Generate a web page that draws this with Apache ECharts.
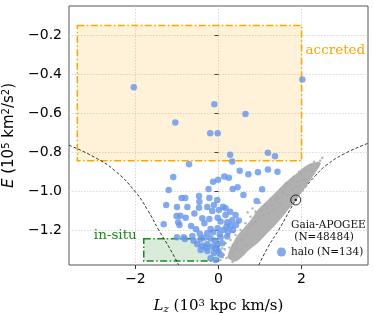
<!DOCTYPE html>
<html><head><meta charset="utf-8">
<script src="https://cdn.jsdelivr.net/npm/echarts@6/dist/echarts.min.js"></script>
<style>html,body{margin:0;padding:0;background:#fff}#c{width:374px;height:313px}</style>
</head><body><div id="c"></div>
<script>
// ---- data (Lz in 10^3 kpc km/s, E in 10^5 km^2/s^2) ----
var xTicks = [-2, 0, 2];
var yTicks = [-1.2, -1.0, -0.8, -0.6, -0.4, -0.2];
var accretedBox = [-3.4, 2.0, -0.845, -0.15];   // [Lz min, Lz max, E min, E max]
var insituBox = [-1.8, 0.0, -1.36, -1.245];
var curveLeft = [[-3.6,-0.765],[-3.0,-0.825],[-2.5,-0.895],[-2.0,-1.005],[-1.7,-1.1],[-1.44,-1.2],[-1.16,-1.3],[-0.96,-1.38]];
var curveRight = [[0.97,-1.38],[1.2,-1.285],[1.45,-1.2],[1.86,-1.046],[2.0,-1.005],[2.34,-0.92],[2.6,-0.867],[3.0,-0.812],[3.6,-0.755]];
var diskBand = [[2.40,-0.85],[2.14,-0.866],[1.90,-0.906],[1.66,-0.947],[1.42,-0.997],[1.17,-1.05],[0.93,-1.10],[0.78,-1.148],[0.61,-1.19],[0.44,-1.232],[0.32,-1.278],[0.25,-1.31],[0.23,-1.344],[0.40,-1.362],[0.58,-1.336],[0.72,-1.305],[0.94,-1.268],[1.13,-1.227],[1.37,-1.175],[1.61,-1.114],[1.86,-1.048],[2.10,-0.98],[2.34,-0.904],[2.46,-0.86]];
var diskStars = [[2.22,-0.867],[2.10,-0.892],[1.98,-0.918],[1.81,-0.927],[1.90,-0.952],[1.73,-0.969],[1.61,-0.978],[1.53,-1.004],[1.66,-1.021],[1.45,-1.037],[1.37,-1.046],[1.29,-1.072],[1.17,-1.089],[1.05,-1.097],[0.97,-1.132],[1.09,-1.123],[0.89,-1.157],[0.81,-1.174],[0.73,-1.191],[0.65,-1.226],[0.57,-1.251],[0.45,-1.268],[0.41,-1.303],[0.33,-1.319],[0.25,-1.337],[0.53,-1.303],[0.65,-1.277],[1.21,-1.114],[1.33,-1.097],[1.49,-1.063],[1.78,-0.995],[2.02,-0.944],[2.26,-0.892],[2.38,-0.875],[2.42,-0.858],[0.89,-1.106],[0.77,-1.132],[0.65,-1.166],[0.53,-1.2],[0.41,-1.226],[0.29,-1.251],[0.17,-1.268],[0.09,-1.294],[0.13,-1.328],[0.05,-1.354],[0.53,-1.251],[0.43,-1.292],[0.34,-1.277],[0.19,-1.344],[0.34,-1.364],[1.25,-1.046],[1.13,-1.072],[1.41,-1.029],[1.57,-1.012],[1.86,-0.978],[2.10,-0.944],[2.5,-0.83],[2.45,-0.845],[2.3,-0.85],[0.70,-1.11],[1.0,-1.06],[0.48,-1.16],[0.15,-1.30],[0.22,-1.23],[0.36,-1.21],[0.82,-1.09],[1.62,-0.96],[1.95,-0.90],[0.10,-1.34],[0.26,-1.29]];
var haloStars = [[-2.04,-0.467],[-0.10,-0.555],[-1.04,-0.648],[-0.20,-0.703],[-0.02,-0.703],[2.02,-0.427],[0.65,-0.604],[0.28,-0.814],[0.33,-0.848],[-0.71,-0.863],[-1.09,-0.928],[0.14,-0.925],[0.25,-0.932],[-0.13,-0.952],[-0.01,-0.942],[-1.20,-0.995],[-0.24,-0.99],[0.34,-0.99],[0.46,-0.981],[0.51,-0.896],[-0.89,-1.036],[-0.80,-1.036],[-0.47,-1.026],[-0.22,-1.036],[-0.03,-1.046],[1.19,-0.804],[1.36,-0.822],[0.72,-0.914],[0.95,-0.904],[1.19,-0.889],[1.42,-0.901],[1.05,-0.991],[0.60,-1.021],[0.92,-1.051],[-0.46,-1.055],[-1.26,-1.072],[-1.00,-1.082],[-0.75,-1.082],[-0.47,-1.086],[-0.27,-1.082],[-0.15,-1.103],[0.01,-1.097],[0.17,-1.089],[0.28,-1.106],[-0.92,-1.127],[-0.79,-1.137],[-0.39,-1.14],[-0.22,-1.144],[-0.02,-1.137],[0.17,-1.123],[-0.97,-1.161],[-0.94,-1.174],[-0.34,-1.166],[0.05,-1.157],[0.21,-1.161],[0.33,-1.150],[-0.54,-1.196],[-0.19,-1.195],[-0.02,-1.191],[0.19,-1.183],[0.29,-1.178],[0.42,-1.174],[-0.27,-1.217],[-0.13,-1.212],[0.03,-1.222],[0.23,-1.209],[-0.81,-1.246],[-0.63,-1.231],[-0.60,-1.256],[-0.43,-1.246],[-0.34,-1.239],[-0.19,-1.243],[-0.09,-1.256],[0.05,-1.239],[0.21,-1.234],[-0.51,-1.273],[-0.39,-1.281],[-0.27,-1.273],[-0.15,-1.286],[-0.07,-1.294],[0.09,-1.268],[-0.43,-1.303],[-0.27,-1.308],[-0.11,-1.319],[-0.19,-1.345],[-0.07,-1.354],[0.05,-1.328],[0.11,-1.081],[0.41,-1.123],[0.49,-1.152],[-0.11,-1.072],[-0.03,-1.277],[-1.32,-1.171],[-1.01,-1.128],[-1.0,-1.237],[-0.84,-1.237],[-0.58,-1.115],[-0.66,-1.18],[0.12,-1.2],[-0.3,-1.29],[0.0,-1.31],[-0.45,-1.22],[0.35,-1.2]];
var sun = [[1.86,-1.046]];
var grayName = 'Gaia-APOGEE\n (N=48484)';
var haloName = 'halo (N=134)';

function fmt(v, d){ return (d ? v.toFixed(d) : String(v)).replace('-', '\u2212'); }

var chart = echarts.init(document.getElementById('c'));
function boxRender(color, fill, label, labelPos){
  return function(params, api){
    var p0 = api.coord([api.value(0), api.value(3)]);
    var p1 = api.coord([api.value(1), api.value(2)]);
    var t = labelPos === 'right'
      ? {x: p1[0] + 4, y: p0[1] + 25, align: 'left'}
      : {x: p0[0] - 7, y: p0[1] - 3, align: 'right'};
    return {type: 'group', children: [
      {type: 'rect', shape: {x: p0[0], y: p0[1], width: p1[0]-p0[0], height: p1[1]-p0[1]},
       style: {fill: fill, stroke: color, lineWidth: 1.5, lineDash: [7, 2.5, 1.5, 2.5]}},
      {type: 'text', x: t.x, y: t.y, style: {text: label, fill: color, font: '13.5px "DejaVu Serif"', align: t.align, verticalAlign: 'middle'}}
    ]};
  };
}
var option = {
  animation: false,
  grid: {left: 69, right: 6, top: 6, bottom: 48, containLabel: false, outerBoundsMode: 'none', show: true, borderColor: '#555', borderWidth: 1, backgroundColor: 'transparent'},
  xAxis: {type: 'value', min: -3.6, max: 3.6,
    name: '{i|L}{sub|z} (10{sup|3} kpc km/s)', nameLocation: 'middle', nameGap: 33,
    nameTextStyle: {fontFamily: 'DejaVu Serif', fontSize: 15, color: '#000',
      rich: {i: {fontStyle: 'italic', fontFamily: 'DejaVu Serif', fontSize: 15}, sub: {fontSize: 10, verticalAlign: 'bottom', padding: [6,0,0,0], fontFamily: 'DejaVu Serif', fontStyle: 'italic'}, sup: {fontSize: 10, verticalAlign: 'top', padding: [0,0,6,0], fontFamily: 'DejaVu Serif'}}},
    axisLine: {show: false},
    axisTick: {show: true, inside: false, length: 4, lineStyle: {color: '#333'}, customValues: xTicks},
    axisLabel: {customValues: xTicks, margin: 7, fontFamily: 'DejaVu Sans', fontSize: 14, color: '#000', formatter: function(v){ return fmt(v); }},
    splitLine: {show: true, lineStyle: {color: '#d0d0d0', width: 0.8, type: [1.5, 1.5]}}
  },
  yAxis: {type: 'value', min: -1.38, max: -0.05,
    name: '{i|E} (10{sup|5} km{sup|2}/s{sup|2})', nameLocation: 'middle', nameGap: 50, nameRotate: 90,
    nameTextStyle: {fontFamily: 'DejaVu Sans', fontSize: 15, color: '#000',
      rich: {i: {fontStyle: 'italic', fontFamily: 'DejaVu Sans', fontSize: 15}, sup: {fontSize: 10, verticalAlign: 'top', padding: [0,0,6,0], fontFamily: 'DejaVu Sans'}}},
    axisLine: {show: false},
    axisTick: {show: true, inside: false, length: 4, lineStyle: {color: '#333'}, customValues: yTicks},
    axisLabel: {customValues: yTicks, margin: 7, fontFamily: 'DejaVu Sans', fontSize: 14, color: '#000', formatter: function(v){ return fmt(v, 1); }},
    splitLine: {show: true, lineStyle: {color: '#d0d0d0', width: 0.8, type: [1.5, 1.5]}}
  },
  legend: {orient: 'vertical', left: 277, top: 219, itemGap: 3, itemWidth: 9, itemHeight: 9, padding: 0,
    textStyle: {fontFamily: 'DejaVu Serif', fontSize: 10.5, lineHeight: 12, color: '#111'},
    data: [{name: grayName, icon: 'none'}, {name: haloName, icon: 'circle'}]},
  series: [
    {type: 'custom', name: 'accreted', z: 1, renderItem: boxRender('#FFA500', 'rgba(255,165,0,0.15)', 'accreted', 'right'), data: [accretedBox], silent: true},
    {type: 'custom', name: 'in-situ', z: 1, renderItem: boxRender('#1a8a1a', 'rgba(0,128,0,0.15)', 'in-situ', 'left'), data: [insituBox], silent: true},
    {type: 'line', name: 'cl', data: curveLeft, smooth: true, showSymbol: false, z: 2, lineStyle: {color: '#000', width: 0.8, type: [3, 2]}},
    {type: 'line', name: 'cr', data: curveRight, smooth: true, showSymbol: false, z: 2, lineStyle: {color: '#000', width: 0.8, type: [3, 2]}},
    {type: 'custom', name: 'band', z: 3, data: [0], renderItem: function(params, api){
      return {type: 'polygon', shape: {points: diskBand.map(function(p){ return api.coord(p); }), smooth: 0.3},
        style: {fill: '#b0b0b0'}};
    }},
    {type: 'scatter', name: grayName, data: diskStars, symbolSize: 2.6, z: 4, itemStyle: {color: '#a9a9a9'}},
    {type: 'scatter', name: haloName, data: haloStars, symbolSize: 6.5, z: 5, itemStyle: {color: '#6495ED'}},
    {type: 'scatter', name: 'sun', data: sun, symbol: 'circle', symbolSize: 10, z: 6, itemStyle: {color: 'rgba(255,255,255,0)', borderColor: '#000', borderWidth: 1}},
    {type: 'scatter', name: 'sunc', data: sun, symbolSize: 2.5, z: 7, itemStyle: {color: '#000'}}
  ]
};
chart.setOption(option);
</script></body></html>
